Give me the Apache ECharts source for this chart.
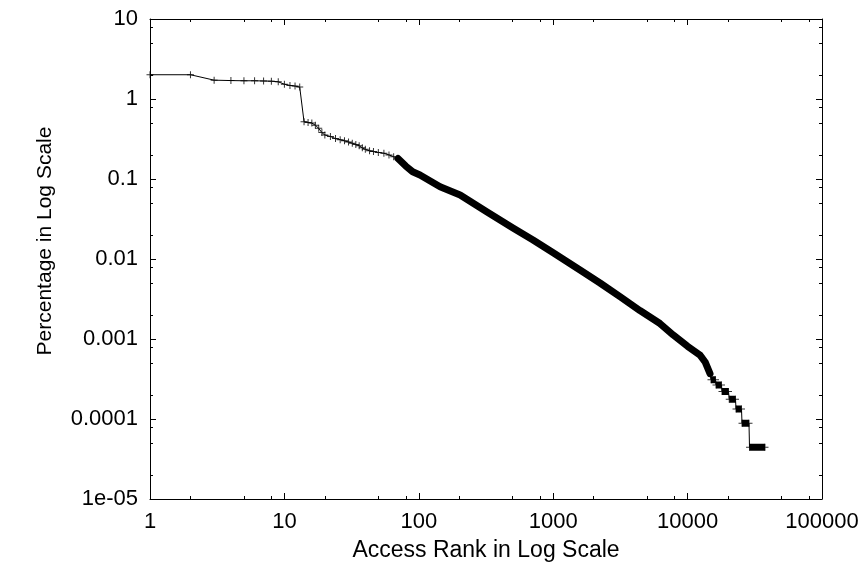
<!DOCTYPE html>
<html>
<head>
<meta charset="utf-8">
<script src="https://cdn.jsdelivr.net/npm/echarts@6/dist/echarts.min.js"></script>
<style>
    html, body { margin: 0; padding: 0; background: #ffffff; }
    #chart { width: 866px; height: 572px; }
</style>
</head>
<body>
<div id="chart"></div>
<script>
// head of the curve, every rank shows its own "+" mark
var headRank = [1, 2, 3, 4, 5, 6, 7, 8, 9, 10, 11, 12, 13, 14, 15, 16, 17, 18, 19, 20,
    22, 24, 26, 28, 30, 32, 34, 36, 38, 40, 43, 46, 50, 55, 60, 65, 70];
var headPct = [2.01, 2.01, 1.72, 1.70, 1.69, 1.69, 1.68, 1.67, 1.64, 1.53, 1.48, 1.45, 1.41,
    0.52, 0.51, 0.50, 0.47, 0.43, 0.38, 0.355,
    0.34, 0.32, 0.31, 0.30, 0.29, 0.28, 0.27, 0.26, 0.245, 0.235, 0.225, 0.22, 0.215, 0.21, 0.20, 0.19, 0.18];

// middle part, marks are so dense they merge into a solid band
var bodyRank = [70, 80, 90, 102, 144, 203, 320, 502, 708, 1000, 1583, 2230, 3140, 4420, 6230, 7830,
    10000, 12370, 13500, 14680];
var bodyPct = [0.18, 0.145, 0.123, 0.112, 0.0801, 0.0631, 0.039, 0.0244, 0.0173, 0.012, 0.00729, 0.00501,
    0.00338, 0.00227, 0.00156, 0.00112, 0.00081, 0.00063, 0.000516, 0.00037];

// tail: runs of ranks sharing the same percentage
var tailStart = [14930, 16270, 18030, 20410, 22920, 25400, 28880];
var tailEnd = [16130, 17870, 20150, 22720, 25180, 28630, 37650];
var tailPct = [0.000310, 0.000266, 0.000221, 0.000177, 0.000133, 0.0000886, 0.0000443];

var xMajor = [1, 10, 100, 1000, 10000, 100000];
var xLabels = ['1', '10', '100', '1000', '10000', '100000'];
var xMinor = [2, 5, 8, 20, 50, 80, 200, 500, 800, 2000, 5000, 8000, 20000, 50000, 80000];
var yMajor = [0.00001, 0.0001, 0.001, 0.01, 0.1, 1, 10];
var yLabels = ['1e-05', '0.0001', '0.001', '0.01', '0.1', '1', '10'];
var yMinor = [0.00002, 0.00005, 0.00008, 0.0002, 0.0005, 0.0008, 0.002, 0.005, 0.008,
    0.02, 0.05, 0.08, 0.2, 0.5, 0.8, 2, 5, 8];

var FONT = 'Liberation Sans, Arial, sans-serif';
var PLUS = 'path://M3,0H4V3H7V4H4V7H3V4H0V3H3Z';

function labelOf(values, labels) {
    return function (v) {
        for (var i = 0; i < values.length; i++) {
            if (Math.abs(Math.log10(v) - Math.log10(values[i])) < 1e-6) return labels[i];
        }
        return '';
    };
}

function logAxis(min, max, position, major, opts) {
    var ax = {
        type: 'log',
        logBase: 10,
        min: min,
        max: max,
        position: position,
        splitLine: { show: false },
        axisLine: { show: opts.line, onZero: false, lineStyle: { color: '#000', width: 1 } },
        axisTick: {
            show: true,
            inside: true,
            length: major ? 6 : 3,
            customValues: opts.ticks,
            lineStyle: { color: '#000', width: 1 }
        },
        axisLabel: { show: false }
    };
    if (opts.labels) {
        ax.axisLabel = {
            show: true,
            customValues: opts.ticks,
            formatter: labelOf(opts.ticks, opts.labels),
            color: '#000',
            fontFamily: FONT,
            fontSize: 22,
            margin: 12
        };
    }
    return ax;
}

function pairs(xs, ys) {
    return xs.map(function (x, i) { return [x, ys[i]]; });
}

var tracePts = pairs(headRank, headPct).concat(pairs(bodyRank, bodyPct).slice(1));
var tailMarks = [];
for (var i = 0; i < tailPct.length; i++) {
    tracePts.push([tailStart[i], tailPct[i]]);
    tracePts.push([tailEnd[i], tailPct[i]]);
    tailMarks.push([tailStart[i], tailPct[i]]);
    tailMarks.push([tailEnd[i], tailPct[i]]);
}

var xAxes = [
    logAxis(1, 100000, 'bottom', true, { line: true, ticks: xMajor, labels: xLabels }),
    logAxis(1, 100000, 'bottom', false, { line: false, ticks: xMinor }),
    logAxis(1, 100000, 'top', true, { line: true, ticks: xMajor }),
    logAxis(1, 100000, 'top', false, { line: false, ticks: xMinor })
];
xAxes[0].name = 'Access Rank in Log Scale';
xAxes[0].nameLocation = 'middle';
xAxes[0].nameGap = 40;
xAxes[0].nameTextStyle = { color: '#000', fontFamily: FONT, fontSize: 23 };

var yAxes = [
    logAxis(0.00001, 10, 'left', true, { line: true, ticks: yMajor, labels: yLabels }),
    logAxis(0.00001, 10, 'left', false, { line: false, ticks: yMinor }),
    logAxis(0.00001, 10, 'right', true, { line: true, ticks: yMajor }),
    logAxis(0.00001, 10, 'right', false, { line: false, ticks: yMinor })
];
yAxes[0].name = 'Percentage in Log Scale';
yAxes[0].nameLocation = 'middle';
yAxes[0].nameGap = 94;
yAxes[0].nameTextStyle = { color: '#000', fontFamily: FONT, fontSize: 21, padding: [0, 0, 0, 36] };

var series = [
    {
        type: 'line',
        data: tracePts,
        symbol: 'none',
        lineStyle: { color: '#000', width: 1 },
        animation: false,
        z: 2
    },
    {
        type: 'line',
        data: pairs(bodyRank, bodyPct),
        symbol: 'none',
        lineStyle: { color: '#000', width: 7, cap: 'round', join: 'round' },
        animation: false,
        z: 3
    },
    {
        type: 'scatter',
        data: pairs(headRank, headPct).concat(tailMarks),
        symbol: PLUS,
        symbolSize: 7,
        itemStyle: { color: '#000' },
        animation: false,
        z: 4
    }
];
for (var k = 0; k < tailPct.length; k++) {
    series.push({
        type: 'line',
        data: [[tailStart[k], tailPct[k]], [tailEnd[k], tailPct[k]]],
        symbol: 'none',
        lineStyle: { color: '#000', width: 7, cap: 'butt' },
        animation: false,
        z: 3
    });
}

var chart = echarts.init(document.getElementById('chart'), null, { renderer: 'canvas' });
chart.setOption({
    backgroundColor: '#ffffff',
    animation: false,
    grid: { left: 150, right: 44, top: 19, bottom: 73, containLabel: false },
    xAxis: xAxes,
    yAxis: yAxes,
    series: series
});
</script>
</body>
</html>
